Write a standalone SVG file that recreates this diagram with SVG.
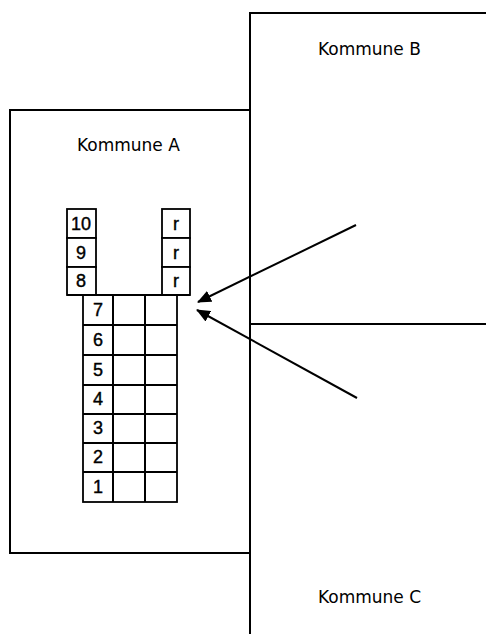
<svg xmlns="http://www.w3.org/2000/svg" width="486" height="634" viewBox="0 0 486 634">
<style>
.ln{fill:none;stroke:#000;stroke-width:2}
.lbl{font-family:"DejaVu Sans","Liberation Sans",sans-serif;font-size:17px;fill:#000}
.num{font-family:"Liberation Sans",sans-serif;font-size:18px;fill:#000;stroke:#000;stroke-width:0.4;text-anchor:middle}
.cell{fill:#fff;stroke:#000;stroke-width:1.8}
</style>
<defs>
<marker id="ah" markerWidth="14" markerHeight="12" refX="13" refY="6" orient="auto" markerUnits="userSpaceOnUse">
<path d="M0,0 L14,6 L0,12 Z" fill="#000"/>
</marker>
</defs>
<g id="kommune-b">
<path class="ln" d="M250,634 V13 H486"/>
<text class="lbl" x="318" y="55">Kommune B</text>
</g>
<g id="kommune-c">
<path class="ln" d="M250,324 H486"/>
<text class="lbl" x="318" y="603">Kommune C</text>
</g>
<g id="kommune-a">
<rect class="ln" x="10" y="110" width="240" height="443"/>
<text class="lbl" x="77" y="151">Kommune A</text>
</g>
<g id="grid">
<rect class="cell" x="67" y="209" width="29" height="29"/>
<rect class="cell" x="67" y="238" width="29" height="29"/>
<rect class="cell" x="67" y="267" width="29" height="28"/>
<rect class="cell" x="162" y="209" width="28" height="29"/>
<rect class="cell" x="162" y="238" width="28" height="29"/>
<rect class="cell" x="162" y="267" width="28" height="28"/>
<rect class="cell" x="83" y="295" width="94" height="207"/>
<path class="ln" d="M67,295 H190 M113,295 V502 M145,295 V502 M83,325 H177 M83,355 H177 M83,385 H177 M83,414 H177 M83,443 H177 M83,472 H177"/>
<text class="num" x="81" y="230">10</text>
<text class="num" x="81" y="259">9</text>
<text class="num" x="81" y="287">8</text>
<text class="num" x="176" y="230">r</text>
<text class="num" x="176" y="259">r</text>
<text class="num" x="176" y="287">r</text>
<text class="num" x="98" y="316">7</text>
<text class="num" x="98" y="346">6</text>
<text class="num" x="98" y="376">5</text>
<text class="num" x="98" y="405">4</text>
<text class="num" x="98" y="434">3</text>
<text class="num" x="98" y="463">2</text>
<text class="num" x="98" y="493">1</text>
</g>
<g id="connectors">
<line class="ln" x1="356" y1="225" x2="198" y2="302" marker-end="url(#ah)"/>
<line class="ln" x1="357" y1="398" x2="197" y2="310" marker-end="url(#ah)"/>
</g>
</svg>
